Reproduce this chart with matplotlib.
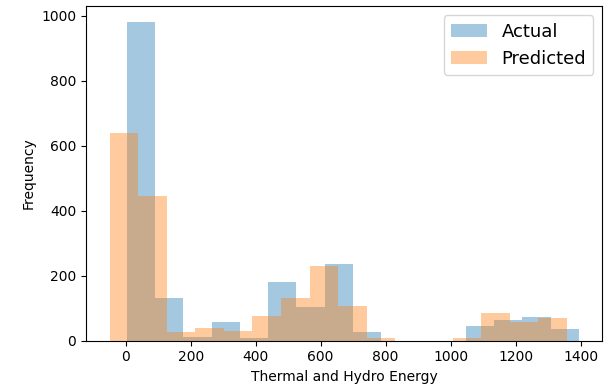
import numpy as np
import matplotlib
matplotlib.use('Agg')
import matplotlib.pyplot as plt

# counts per bin
actual_counts = [980, 130, 12, 57, 8, 180, 105, 236, 28, 0, 0, 0, 45, 63, 73, 35]
predicted_counts = [640, 445, 28, 40, 31, 76, 132, 230, 107, 7, 0, 0, 7, 85, 57, 70]

# data range of each series (16 bins each)
actual_range = (3, 1395)
predicted_range = (-50, 1358)
n_bins = 16

actual_edges = np.linspace(actual_range[0], actual_range[1], n_bins + 1)
predicted_edges = np.linspace(predicted_range[0], predicted_range[1], n_bins + 1)
actual_mid = (actual_edges[:-1] + actual_edges[1:]) / 2
predicted_mid = (predicted_edges[:-1] + predicted_edges[1:]) / 2

fig = plt.figure(figsize=(6.11, 3.92), dpi=100)
ax = fig.add_axes([0.1408, 0.1309, 0.8452, 0.853])

ax.hist(actual_mid, bins=actual_edges, weights=actual_counts, alpha=0.4, label='Actual')
ax.hist(predicted_mid, bins=predicted_edges, weights=predicted_counts, alpha=0.4, label='Predicted')

ax.set_xlabel('Thermal and Hydro Energy')
ax.set_ylabel('Frequency')
ax.legend(loc='upper right', fontsize=13)

fig.savefig('out.png', dpi=100)
